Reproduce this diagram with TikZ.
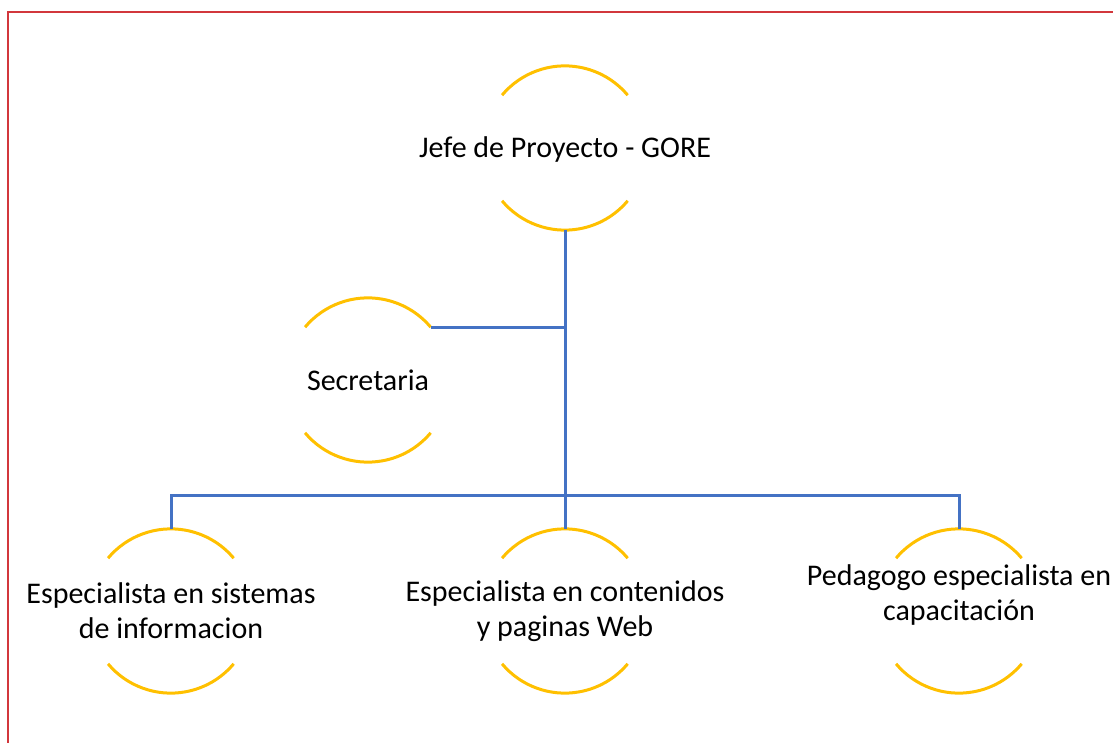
\documentclass[tikz,border=0pt]{standalone}
\usepackage{fontspec}
\setmainfont{Carlito}
\definecolor{frame}{RGB}{210,55,60}
\definecolor{ringc}{RGB}{255,192,0}
\definecolor{linec}{RGB}{68,114,196}
\tikzset{
  ring/.style={circle,minimum size=164pt,inner sep=0pt},
  arcst/.style={draw=ringc,line width=3pt},
  conn/.style={draw=linec,line width=3pt},
  lbl/.style={align=center,font=\fontsize{30}{35}\selectfont,text=black}
}
\newcommand{\ringarcs}[1]{%
  \draw[arcst] (#1.140) arc[start angle=140,end angle=40,radius=82pt];
  \draw[arcst] (#1.220) arc[start angle=220,end angle=320,radius=82pt];}
\begin{document}
\begin{tikzpicture}[x=1pt,y=-1pt]
\useasboundingbox (0,0) rectangle (1113,743);
\draw[frame,line width=2.4pt] (8,745) -- (8,12) -- (1115,12);
\node[ring] (jefe) at (565,148) {};
\node[ring] (sec) at (368,380) {};
\node[ring] (left) at (171,611) {};
\node[ring] (mid) at (565,611) {};
\node[ring] (right) at (959,611) {};
\ringarcs{jefe}
\ringarcs{sec}
\ringarcs{left}
\ringarcs{mid}
\ringarcs{right}
\node[lbl] (tjefe) at (565,150) {Jefe de Proyecto - GORE};
\node[lbl] (tsec) at (368,380) {Secretaria};
\node[lbl] (tleft) at (171,611) {Especialista en sistemas\\de informacion};
\node[lbl] (tmid) at (565,611) {Especialista en contenidos\\y paginas Web};
\node[lbl] (tright) at (959,595) {Pedagogo especialista en\\capacitación};
\coordinate (bus) at (565,495);
\draw[conn] (jefe.south) -- (mid.north);
\draw[conn] (sec.40) -- (sec.40 -| jefe.south);
\draw[conn] (left.north) |- (bus) -| (right.north);
\end{tikzpicture}
\end{document}
